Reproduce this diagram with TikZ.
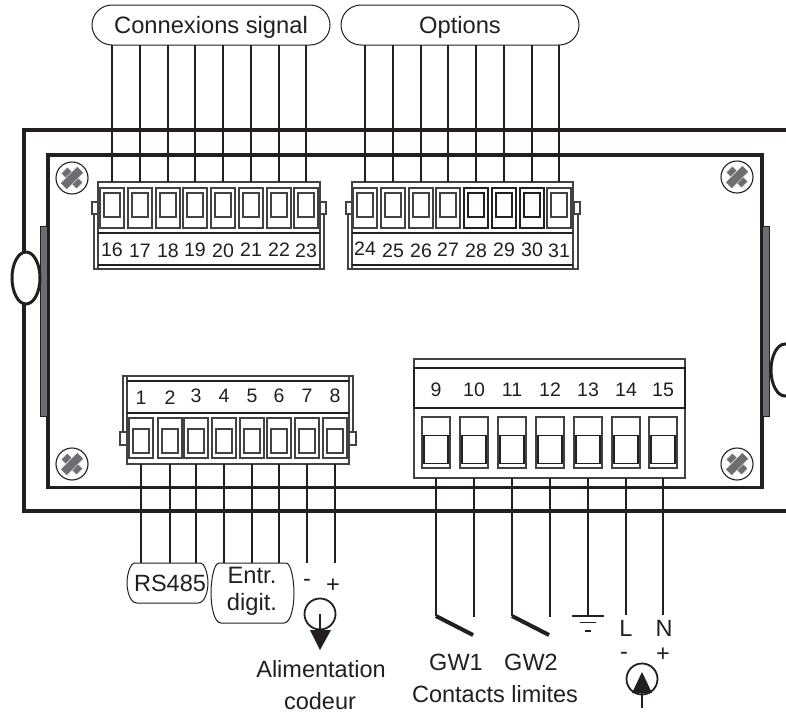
\documentclass[tikz,border=0pt]{standalone}
\usepackage{fontspec}
\usetikzlibrary{shapes.geometric}
\setmainfont{Liberation Sans}
\definecolor{ink}{HTML}{231F20}
\definecolor{barg}{HTML}{6D6E71}
\tikzset{
  x=1pt,y=-1pt,
  frameline/.style={line width=3.2pt,draw=ink},
  wire/.style={line width=1.2pt,draw=ink},
  thinbox/.style={draw=ink!85,fill=white,line width=1.1pt,inner sep=0pt,outer sep=0pt,anchor=center},
  body/.style={thinbox,line width=1.3pt},
  cella/.style={thinbox,minimum width=24pt,minimum height=40pt},
  cellb/.style={cella,line width=1.8pt,draw=ink},
  innera/.style={thinbox,minimum width=16pt,minimum height=24pt},
  innerb/.style={innera,line width=1.9pt,draw=ink},
  cellc/.style={thinbox,minimum width=28pt,minimum height=51pt},
  innerc/.style={thinbox,line width=1.5pt,draw=ink,minimum width=24pt,minimum height=28pt},
  num/.style={inner sep=0pt,outer sep=0pt,text=ink,font=\fontsize{19.5}{19.5}\selectfont},
  lab/.style={inner sep=0pt,outer sep=0pt,text=ink,text depth=0pt,font=\fontsize{23.5}{23.5}\selectfont},
  pill/.style={draw=ink,line width=1pt,fill=white,rounded corners=20pt,minimum width=238pt,minimum height=40pt,inner sep=0pt,outer sep=0pt,text=ink,text depth=0pt,font=\fontsize{23.7}{23.7}\selectfont},
  lozbox/.style={inner sep=0pt,outer sep=0pt,text=ink,align=center,font=\fontsize{23.7}{27}\selectfont},
  bubbleline/.style={draw=ink,line width=1pt,fill=white},
  srcring/.style={circle,draw=ink,line width=1.8pt,minimum size=31pt,inner sep=0pt,outer sep=0pt},
  thick switch/.style={line width=4pt,draw=ink},
  screwring/.style={circle,draw=ink,line width=1.1pt,fill=white,minimum size=32pt,inner sep=0pt},
  screwbar/.style={fill=barg,draw=white,line width=.5pt}
}
\newcommand{\myscrew}[2]{%
  \node[screwring] (#1) at (#2) {};
  \begin{scope}[shift={(#2)},rotate=45]
    \filldraw[screwbar] (-4.5,-11) rectangle (4.5,11);
    \filldraw[screwbar] (-12,-4.5) rectangle (12,4.5);
  \end{scope}
}
\begin{document}
\begin{tikzpicture}
\clip (0,0) rectangle (786,713);
\fill[white] (0,0) rectangle (786,713);
% housing
\draw[frameline] (786,130) -- (24,130) -- (24,511) -- (786,511);
\draw[frameline] (762,416) -- (762,155) -- (48,155) -- (48,487.5) -- (762,487.5) -- (762,416);
\draw[draw=ink,line width=1pt,fill=barg] (40,226) rectangle (47,416);
\draw[draw=ink,line width=1pt,fill=barg] (762,226) rectangle (769,416);
\node[ellipse,draw=ink,line width=3pt,fill=white,minimum width=28pt,minimum height=52pt,inner sep=0pt] (latchL) at (26,278) {};
\node[ellipse,draw=ink,line width=3pt,fill=white,minimum width=28pt,minimum height=52pt,inner sep=0pt] (latchR) at (785,370) {};
\myscrew{sa}{72,178}
\myscrew{sb}{737,177}
\myscrew{sc}{72,464}
\myscrew{sd}{737,464}
% pills
\node[pill] (conn) at (211,25) {Connexions signal};
\node[pill] (opts) at (460,25) {Options};
% block 1
\draw[thinbox] (94,213) rectangle (324,269);
\node[thinbox,minimum width=6pt,minimum height=12pt] (tabA) at (95,208) {};
\node[thinbox,minimum width=6pt,minimum height=12pt] (tabB) at (323,208) {};
\node[body,minimum width=222pt,minimum height=87pt] (blockA) at (209,225.5) {};
\draw[line width=1.4pt,draw=ink] (blockA.west |- 0,233) -- (blockA.east |- 0,233);
\draw[line width=1.1pt,draw=ink] (blockA.west |- 0,265) -- (blockA.east |- 0,265);
% block 2
\draw[thinbox] (348,213) rectangle (578,269);
\node[thinbox,minimum width=6pt,minimum height=12pt] (tabC) at (349,208) {};
\node[thinbox,minimum width=6pt,minimum height=12pt] (tabD) at (577,208) {};
\node[body,minimum width=221pt,minimum height=87pt] (blockB) at (462.5,225.5) {};
\draw[line width=1.4pt,draw=ink] (blockB.west |- 0,233) -- (blockB.east |- 0,233);
\draw[line width=1.1pt,draw=ink] (blockB.west |- 0,265) -- (blockB.east |- 0,265);
% block 3
\draw[thinbox] (123,376) rectangle (353,432);
\node[thinbox,minimum width=8pt,minimum height=13pt] (tabE) at (124,438.5) {};
\node[thinbox,minimum width=8pt,minimum height=13pt] (tabF) at (352,438.5) {};
\node[body,minimum width=222pt,minimum height=88pt] (blockC) at (238,420) {};
\draw[line width=1.1pt,draw=ink] (blockC.west |- 0,381) -- (blockC.east |- 0,381);
\draw[line width=1.4pt,draw=ink] (blockC.west |- 0,413) -- (blockC.east |- 0,413);
% block 4
\node[body,minimum width=271pt,minimum height=119pt] (blockD) at (549.5,418.5) {};
\draw[line width=1.8pt,draw=ink] (blockD.west |- 0,368) rectangle (blockD.east |- 0,408);
% cells
\foreach \n/\x/\ty in {16/112/250,17/140/251,18/168/251,19/195/250,20/223/251,21/251/250,22/279/250,23/306/251}{
  \node[cella] (t\n) at (\x,208) {};
  \node[innera] at (\x,205) {};
  \node[num] (n\n) at (\x,\ty) {\n};
  \draw[wire] (conn.south -| t\n) -- (blockA.north -| t\n);
}
\foreach \n/\x/\ty/\ca/\ia in {24/365/249/cella/innera,25/393/251/cella/innera,26/421/251/cella/innera,27/448/250/cella/innera,28/476/251/cellb/innerb,29/504/250/cellb/innerb,30/532/250/cellb/innerb,31/559/251/cella/innera}{
  \node[\ca] (t\n) at (\x,208) {};
  \node[\ia] at (\x,205) {};
  \node[num] (n\n) at (\x,\ty) {\n};
  \draw[wire] (opts.south -| t\n) -- (blockB.north -| t\n);
}
% block 3 terminals
\draw[bubbleline] (135,563) -- (200,563) .. controls (205,563) and (208,575) .. (208,583) .. controls (208,591) and (205,603) .. (198,603) -- (137,603) .. controls (130,603) and (127,591) .. (127,583) .. controls (127,575) and (130,563) .. (135,563);
\draw[bubbleline] (219,563) -- (286,563) .. controls (291,563) and (294,580) .. (294,593) .. controls (294,606) and (291,623) .. (284,623) -- (221,623) .. controls (214,623) and (211,606) .. (211,593) .. controls (211,580) and (214,563) .. (219,563);
\node[lab] (rs) at (170,583) {RS485};
\node[lozbox] (ed) at (252,591) {Entr.\\digit.};
\foreach \n/\x/\ty in {1/141/398,2/170/398,3/196/396,4/224/396,5/252/396,6/279/396,7/307/396,8/335/396}{
  \node[cella] (t\n) at (\x,438) {};
  \node[innera] at (\x,441) {};
  \node[num] (n\n) at (\x,\ty) {\n};
  \coordinate (e\n) at (\x,563);
  \draw[wire] (blockC.south -| t\n) -- (e\n);
}
% block 4 terminals
\coordinate (swA) at (436,616);
\coordinate (swB) at (474,617);
\coordinate (swC) at (512,616);
\coordinate (swD) at (550,617);
\coordinate (gnd) at (588,616);
\coordinate (endL) at (626,615);
\coordinate (endN) at (663,615);
\foreach \n/\x/\e in {9/436/swA,10/474/swB,11/512/swC,12/550/swD,13/588/gnd,14/626/endL,15/663/endN}{
  \node[cellc] (t\n) at (\x,442.5) {};
  \node[innerc] at (\x,449.5) {};
  \node[num] (n\n) at (\x,390) {\n};
  \draw[wire] (blockD.south -| t\n) -- (\e);
}
% switches
\coordinate (swAe) at (473,635);
\coordinate (swCe) at (549,635);
\draw[thick switch] (swA) -- (swAe);
\draw[thick switch] (swC) -- (swCe);
% earth
\draw[line width=1.2pt,draw=ink] (572,616) -- (604,616);
\draw[line width=1.2pt,draw=ink] (580,622.5) -- (596,622.5);
\draw[line width=1.2pt,draw=ink] (585,631) -- (591,631);
% labels
\node[lab] (lL) at (626,628) {L};
\node[lab] (lN) at (664,628) {N};
\node[lab] at (624,656) {-};
\node[lab] at (663,655) {+};
\node[lab] at (307,583) {-};
\node[lab] at (333,586) {+};
\node[lab] (gw1) at (456,662) {GW1};
\node[lab] (gw2) at (531,662) {GW2};
\node[lab] (cl) at (495,694) {Contacts limites};
\node[lab] (al) at (321,669) {Alimentation};
\node[lab] (co) at (320,701) {codeur};
% sources
\node[srcring] (srcA) at (320,614) {};
\coordinate (tipA) at (320,650);
\fill[ink] (310,630) -- (331,630) -- (tipA) -- cycle;
\draw[wire] (srcA.center) -- (320,631);
\node[srcring] (srcB) at (642,679) {};
\coordinate (tipB) at (642,672);
\coordinate (tailB) at (642,708);
\fill[ink] (632,693) -- (652,693) -- (tipB) -- cycle;
\draw[wire] (tailB) -- (642,691);
\end{tikzpicture}
\end{document}
